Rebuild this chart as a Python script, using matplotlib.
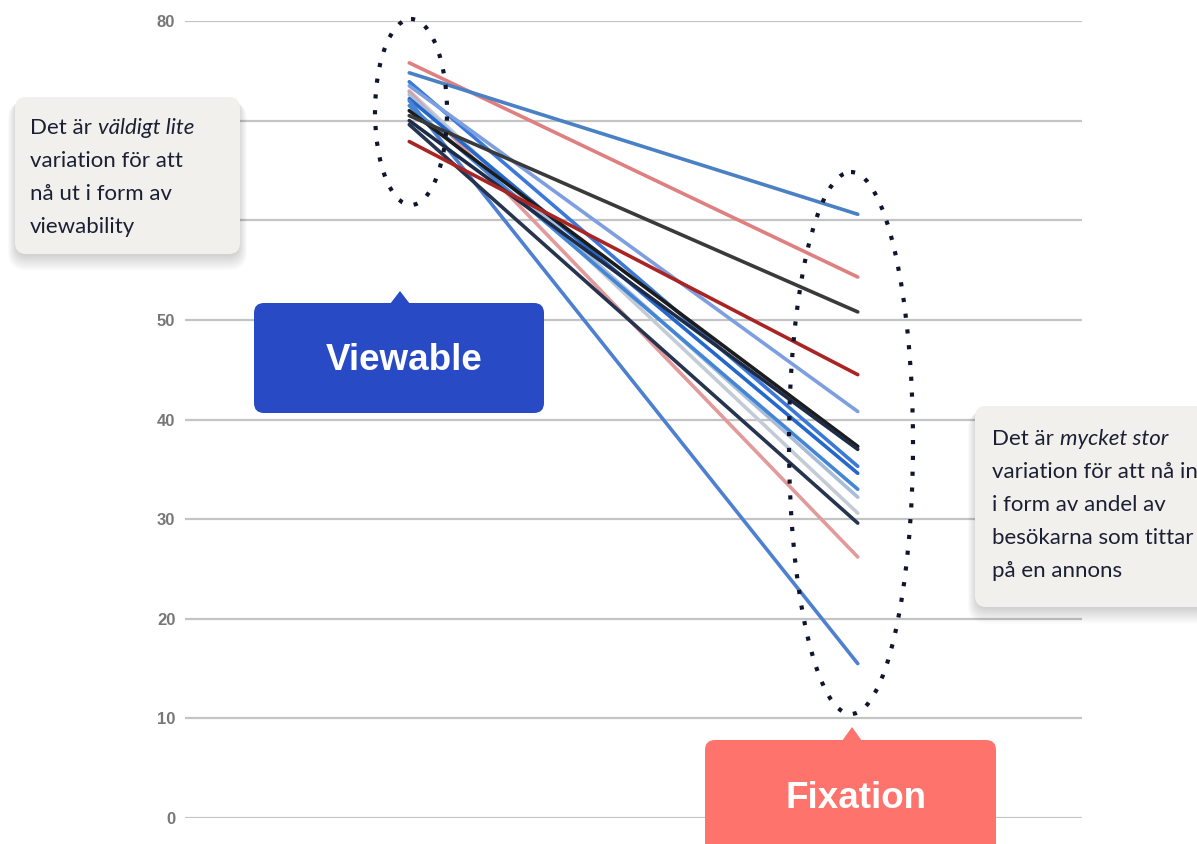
import matplotlib
matplotlib.use("Agg")
import matplotlib.pyplot as plt
from matplotlib.patches import FancyBboxPatch, Polygon, Ellipse

# two measurement points per line
categories = ["Viewable", "Fixation"]
viewable = [75.8, 74.8, 73.9, 73.5, 73.0, 72.9, 72.6, 72.2, 72.0, 71.5, 71.0, 70.5, 70.0, 69.6, 67.9]
fixation = [54.3, 60.6, 35.3, 40.8, 30.6, 26.2, 32.2, 34.6, 15.5, 33.0, 37.3, 50.8, 37.0, 29.6, 44.5]
line_colors = ["#e07f7f", "#4a80c4", "#3b78d8", "#7d9fe0", "#c3ccd6", "#e29a9a", "#a9bdd8",
               "#2468cc", "#4e80d2", "#4386d6", "#1c1c1c", "#3a3a3a", "#1e2c48", "#263450", "#aa2424"]
yticks = [0, 10, 20, 30, 40, 50, 60, 70, 80]
# 60 and 70 sit behind the left callout in the original
ytick_labels = ["0", "10", "20", "30", "40", "50", "", "", "80"]

W, H = 1197, 844
fig = plt.figure(figsize=(W / 100, H / 100), dpi=100)
ax = fig.add_axes([185 / W, 26 / H, 897 / W, 797 / H])

for v, f, c in zip(viewable, fixation, line_colors):
    ax.plot(categories, [v, f], color=c, lw=2.6, solid_capstyle="round", zorder=3)

ax.set_xlim(-0.5, 1.5)
ax.set_ylim(0, 80)
ax.set_yticks(yticks)
ax.set_yticklabels(ytick_labels)
ax.set_xticks([])
ax.grid(axis="y", color="#c4c4c4", lw=1.6, zorder=0)
for s in ax.spines.values():
    s.set_visible(False)
ax.tick_params(axis="y", length=0, pad=7, labelsize=12, labelcolor="#777777")
for lab in ax.get_yticklabels():
    lab.set_fontfamily("Liberation Sans")
    lab.set_fontweight("bold")

# overlay in pixel coordinates for callouts
ov = fig.add_axes([0, 0, 1, 1])
ov.set_xlim(0, W)
ov.set_ylim(H, 0)
ov.axis("off")

# dotted ellipses
ov.add_patch(Ellipse((411, 112), 72, 186, fill=False, ec="#10152e", lw=3,
                     linestyle=(0, (1, 2.8)), capstyle="butt"))
ov.add_patch(Ellipse((851, 443), 124, 542, fill=False, ec="#10152e", lw=3,
                     linestyle=(0, (1, 2.8)), capstyle="butt"))


def gray_box(x0, y0, w, h):
    # soft drop shadow
    for i in range(9):
        ov.add_patch(FancyBboxPatch((x0 - i + 1, y0 + 2 + i * 0.3), w + 2 * i - 2, h + 1.5 * i,
                                    boxstyle="round,pad=0,rounding_size=%d" % (11 + i),
                                    fc="#000000", ec="none", alpha=0.018))
    ov.add_patch(FancyBboxPatch((x0, y0), w, h, boxstyle="round,pad=0,rounding_size=11",
                                fc="#f1f0ed", ec="none"))


gray_box(15, 97, 225, 157)
gray_box(975, 406, 240, 201)

renderer = fig.canvas.get_renderer()
txt_kw = dict(family="Lato", fontsize=16, color="#1b1f33", va="baseline")


def rich_line(x, y, parts):
    sp = ov.text(0, 0, "a a", **txt_kw)
    sp2 = ov.text(0, 0, "aa", **txt_kw)
    space = sp.get_window_extent(renderer).width - sp2.get_window_extent(renderer).width
    sp.remove()
    sp2.remove()
    for s, style in parts:
        t = ov.text(x, y, s, style=style, **txt_kw)
        x += t.get_window_extent(renderer).width + space


left_lines = [[("Det är", "normal"), ("väldigt lite", "italic")],
              [("variation för att", "normal")],
              [("nå ut i form av", "normal")],
              [("viewability", "normal")]]
for i, parts in enumerate(left_lines):
    rich_line(30, 134 + 33 * i, parts)

right_lines = [[("Det är", "normal"), ("mycket stor", "italic")],
               [("variation för att nå in", "normal")],
               [("i form av andel av", "normal")],
               [("besökarna som tittar", "normal")],
               [("på en annons", "normal")]]
for i, parts in enumerate(right_lines):
    rich_line(992, 445 + 33 * i, parts)


def tag(x0, y0, w, h, tip_x, tip_y, color, label):
    ov.add_patch(Polygon([(tip_x - 10, y0 + 1), (tip_x, tip_y), (tip_x + 10, y0 + 1)],
                         closed=True, fc=color, ec="none"))
    ov.add_patch(FancyBboxPatch((x0, y0), w, h, boxstyle="round,pad=0,rounding_size=10",
                                fc=color, ec="none"))
    ov.text(x0 + w / 2 + 5, y0 + 58, label, ha="center", va="center", color="white",
            family="Liberation Sans", fontweight="bold", fontsize=26.5)


tag(254, 303, 290, 110, 400, 291, "#284bc5", "Viewable")
tag(705, 740, 291, 130, 852, 727, "#fe736c", "Fixation")

fig.savefig("out.png", dpi=100)
